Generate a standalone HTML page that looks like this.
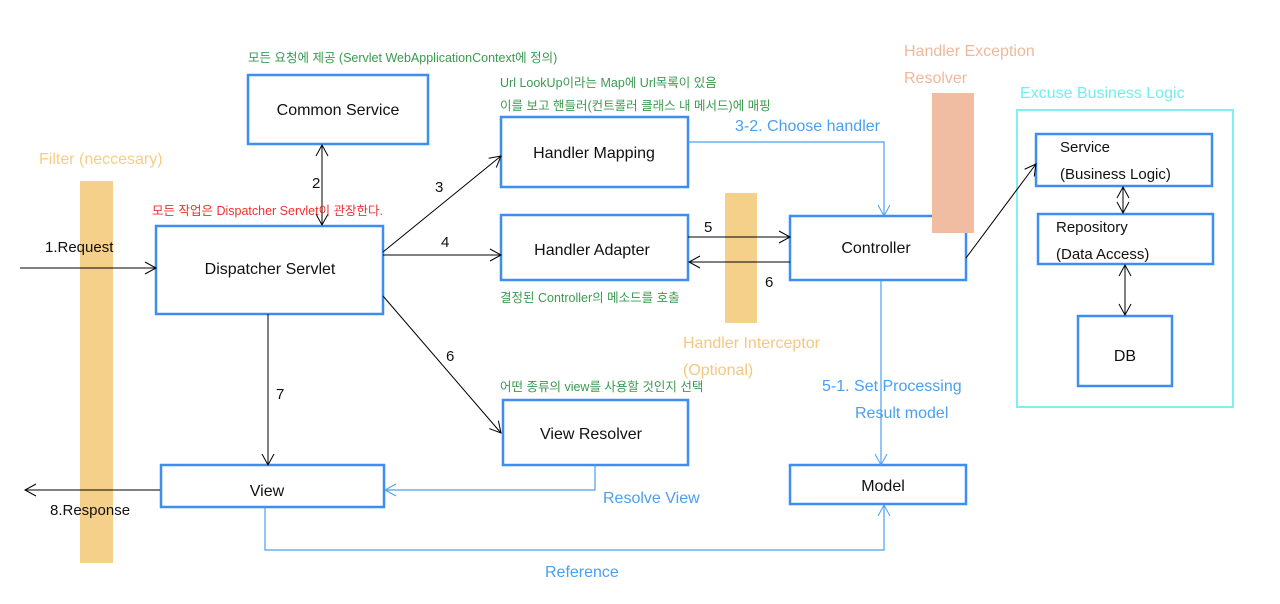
<!DOCTYPE html>
<html><head><meta charset="utf-8"><style>
html,body{margin:0;padding:0;background:#fff;}
svg{display:block;font-family:"Liberation Sans","Noto Sans CJK KR",sans-serif;}
</style></head><body>
<svg width="1280" height="604" viewBox="0 0 1280 604" xmlns="http://www.w3.org/2000/svg">
<defs>
<marker id="a" markerWidth="14" markerHeight="14" refX="12" refY="7" orient="auto" markerUnits="userSpaceOnUse"><path d="M1,1 L12,7 L1,13" fill="none" stroke="#000" stroke-width="1"/></marker>
<marker id="ab" markerWidth="14" markerHeight="14" refX="12" refY="7" orient="auto" markerUnits="userSpaceOnUse"><path d="M1,1 L12,7 L1,13" fill="none" stroke="#4a9ff0" stroke-width="1"/></marker>
<marker id="s" markerWidth="14" markerHeight="14" refX="2" refY="7" orient="auto" markerUnits="userSpaceOnUse"><path d="M13,1 L2,7 L13,13" fill="none" stroke="#000" stroke-width="1"/></marker>
</defs>
<!-- bars -->
<rect x="80" y="181" width="33" height="382" fill="#f5d08a"/>
<rect x="725" y="193" width="32" height="130" fill="#f5d08a"/>
<rect x="932" y="93" width="42" height="140" fill="#f0bca2"/>
<rect x="1017" y="110" width="216" height="297" fill="none" stroke="#7ff0f0" stroke-width="2"/>
<!-- boxes -->
<g fill="none" stroke="#3d8ef0" stroke-width="2.5">
<rect x="248" y="75" width="180" height="69"/>
<rect x="501" y="117" width="187" height="70"/>
<rect x="156" y="226" width="227" height="88"/>
<rect x="501" y="215" width="187" height="65"/>
<rect x="790" y="216" width="176" height="64"/>
<rect x="503" y="400" width="185" height="65"/>
<rect x="161" y="465" width="223" height="42"/>
<rect x="790" y="465" width="176" height="39"/>
<rect x="1036" y="134" width="176" height="52"/>
<rect x="1038" y="214" width="175" height="50"/>
<rect x="1078" y="316" width="94" height="70"/>
</g>
<rect x="932" y="93" width="42" height="140" fill="#f0bca2"/>
<!-- black lines -->
<g stroke="#000" stroke-width="1" fill="none">
<line x1="20" y1="268" x2="156" y2="268" marker-end="url(#a)"/>
<line x1="322" y1="145" x2="322" y2="225" marker-end="url(#a)" marker-start="url(#s)"/>
<line x1="383" y1="252" x2="501" y2="156" marker-end="url(#a)"/>
<line x1="383" y1="255" x2="501" y2="255" marker-end="url(#a)"/>
<line x1="383" y1="296" x2="501" y2="433" marker-end="url(#a)"/>
<line x1="268" y1="314" x2="268" y2="465" marker-end="url(#a)"/>
<line x1="160" y1="490" x2="25" y2="490" marker-end="url(#a)"/>
<line x1="688" y1="237" x2="790" y2="237" marker-end="url(#a)"/>
<line x1="790" y1="262" x2="689" y2="262" marker-end="url(#a)"/>
<line x1="966" y1="258" x2="1036" y2="164" marker-end="url(#a)"/>
<line x1="1123" y1="187" x2="1123" y2="213" marker-end="url(#a)" marker-start="url(#s)"/>
<line x1="1125" y1="265" x2="1125" y2="315" marker-end="url(#a)" marker-start="url(#s)"/>
</g>
<!-- blue lines -->
<g stroke="#4a9ff0" stroke-width="1.2" fill="none">
<polyline points="688,142 884,142 884,216" marker-end="url(#ab)"/>
<line x1="881" y1="280" x2="881" y2="465" marker-end="url(#ab)"/>
<polyline points="595,465 595,490 385,490" marker-end="url(#ab)"/>
<polyline points="265,507 265,550 884,550 884,505" marker-end="url(#ab)"/>
</g>
<!-- box labels -->
<g font-size="16" fill="#111" text-anchor="middle">
<text x="338" y="115">Common Service</text>
<text x="594" y="158">Handler Mapping</text>
<text x="270" y="274">Dispatcher Servlet</text>
<text x="592" y="255">Handler Adapter</text>
<text x="876" y="253">Controller</text>
<text x="591" y="439">View Resolver</text>
<text x="267" y="496">View</text>
<text x="883" y="491">Model</text>
<text x="1125" y="361">DB</text>
</g>
<g font-size="15" fill="#111">
<text x="1060" y="152">Service</text>
<text x="1060" y="179">(Business Logic)</text>
<text x="1056" y="232">Repository</text>
<text x="1056" y="259">(Data Access)</text>
<text x="45" y="252">1.Request</text>
<text x="50" y="515">8.Response</text>
<text x="312" y="188">2</text>
<text x="435" y="192">3</text>
<text x="441" y="247">4</text>
<text x="446" y="361">6</text>
<text x="276" y="399">7</text>
<text x="704" y="232">5</text>
<text x="765" y="287">6</text>
</g>
<g font-size="16" fill="#4a9ff0">
<text x="735" y="131">3-2. Choose handler</text>
<text x="822" y="391">5-1. Set Processing</text>
<text x="855" y="418">Result model</text>
<text x="603" y="503">Resolve View</text>
<text x="545" y="577">Reference</text>
</g>
<g font-size="16">
<text x="39" y="164" fill="#f7cd85">Filter (neccesary)</text>
<text x="683" y="348" fill="#f5c77f">Handler Interceptor</text>
<text x="683" y="375" fill="#f5c77f">(Optional)</text>
<text x="904" y="56" fill="#f0b89a">Handler Exception</text>
<text x="904" y="83" fill="#f0b89a">Resolver</text>
<text x="1020" y="98" fill="#6ff0f0">Excuse Business Logic</text>
</g>
<g font-size="12.5" fill="#3a9a50">
<text x="248" y="62">모든 요청에 제공 (Servlet WebApplicationContext에 정의)</text>
<text x="500" y="87">Url LookUp이라는 Map에 Url목록이 있음</text>
<text x="500" y="110">이를 보고 핸들러(컨트롤러 클래스 내 메서드)에 매핑</text>
<text x="500" y="302">결정된 Controller의 메소드를 호출</text>
<text x="500" y="391">어떤 종류의 view를 사용할 것인지 선택</text>
</g>
<text x="152" y="215" font-size="12.5" fill="#f03030">모든 작업은 Dispatcher Servlet이 관장한다.</text>
</svg>
</body></html>
